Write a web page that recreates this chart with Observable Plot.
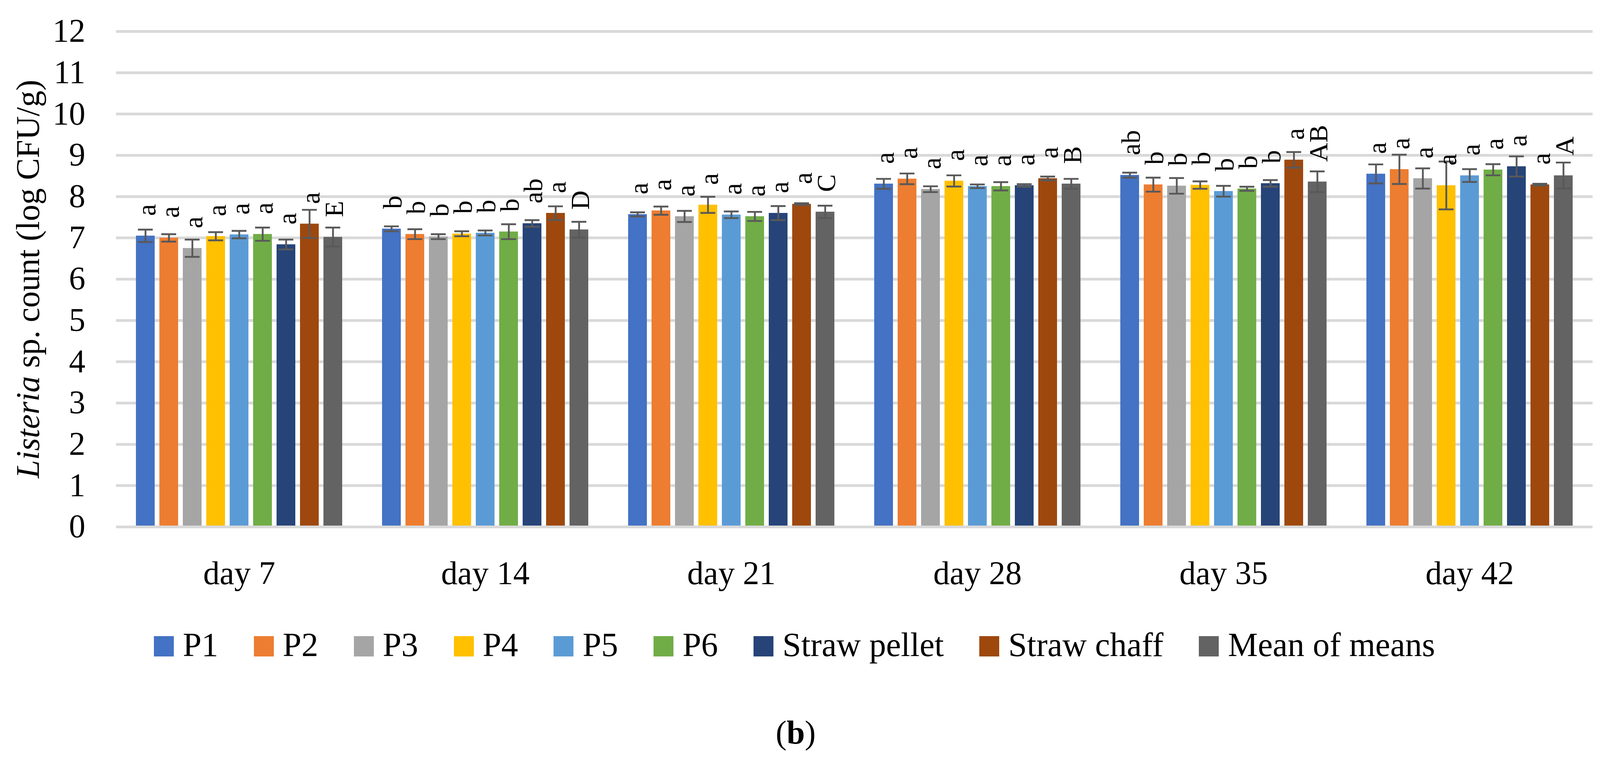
<!DOCTYPE html>
<html><head><meta charset="utf-8">
<script src="https://cdn.jsdelivr.net/npm/d3@7"></script>
<script src="https://cdn.jsdelivr.net/npm/@observablehq/plot@0.6"></script>
<style>
html,body{margin:0;padding:0;background:#fff;overflow:hidden;}
#root{position:relative;width:4117px;height:1945px;font-family:"Liberation Serif",serif;color:#000;background:#fff;}
#chart{position:absolute;left:0;top:0;}
#legend{position:absolute;left:394px;top:1607px;display:flex;align-items:flex-start;font-size:86px;line-height:1;white-space:nowrap;}
.item{display:flex;align-items:flex-start;margin-right:91px;}
.sw{width:51px;height:52px;margin-top:21px;margin-right:23px;}
#caption{position:absolute;left:2037px;top:1833px;transform:translateX(-50%);font-size:84px;line-height:1;white-space:nowrap;}
</style></head>
<body><div id="root"><div id="chart"></div><div id="legend"></div><div id="caption">(<b>b</b>)</div></div>
<script>
const days = ["day 7", "day 14", "day 21", "day 28", "day 35", "day 42"];
const seriesNames = ["P1", "P2", "P3", "P4", "P5", "P6", "Straw pellet", "Straw chaff", "Mean of means"];
const seriesColors = ["#4472C4", "#ED7D31", "#A5A5A5", "#FFC000", "#5B9BD5", "#70AD47", "#264478", "#9E480E", "#636363"];
const yTicks = [0, 1, 2, 3, 4, 5, 6, 7, 8, 9, 10, 11, 12];

// mean counts (log CFU/g), in series order
const day7Values  = [7.05, 7.00, 6.75, 7.04, 7.08, 7.09, 6.84, 7.34, 7.02];
const day14Values = [7.22, 7.09, 7.03, 7.10, 7.12, 7.15, 7.35, 7.60, 7.20];
const day21Values = [7.57, 7.66, 7.52, 7.80, 7.56, 7.52, 7.60, 7.82, 7.63];
const day28Values = [8.31, 8.43, 8.18, 8.38, 8.25, 8.25, 8.27, 8.44, 8.31];
const day35Values = [8.52, 8.29, 8.26, 8.28, 8.13, 8.19, 8.32, 8.89, 8.36];
const day42Values = [8.55, 8.66, 8.44, 8.27, 8.51, 8.65, 8.73, 8.29, 8.51];

// error bar half-lengths
const day7Errors  = [0.15, 0.09, 0.21, 0.10, 0.09, 0.16, 0.12, 0.34, 0.23];
const day14Errors = [0.06, 0.12, 0.06, 0.06, 0.06, 0.18, 0.08, 0.165, 0.19];
const day21Errors = [0.05, 0.10, 0.135, 0.195, 0.08, 0.11, 0.17, 0.02, 0.15];
const day28Errors = [0.12, 0.13, 0.07, 0.135, 0.045, 0.10, 0.03, 0.045, 0.12];
const day35Errors = [0.06, 0.17, 0.19, 0.09, 0.13, 0.05, 0.08, 0.19, 0.25];
const day42Errors = [0.23, 0.355, 0.245, 0.58, 0.155, 0.135, 0.245, 0.02, 0.315];

// significance letters
const day7Letters  = ["a", "a", "a", "a", "a", "a", "a", "a", "E"];
const day14Letters = ["b", "b", "b", "b", "b", "b", "ab", "a", "D"];
const day21Letters = ["a", "a", "a", "a", "a", "a", "a", "a", "C"];
const day28Letters = ["a", "a", "a", "a", "a", "a", "a", "a", "B"];
const day35Letters = ["ab", "b", "b", "b", "b", "b", "b", "a", "AB"];
const day42Letters = ["a", "a", "a", "a", "a", "a", "a", "a", "A"];

const allValues = [day7Values, day14Values, day21Values, day28Values, day35Values, day42Values];
const allErrors = [day7Errors, day14Errors, day21Errors, day28Errors, day35Errors, day42Errors];
const allLetters = [day7Letters, day14Letters, day21Letters, day28Letters, day35Letters, day42Letters];

const rows = [];
days.forEach((day, di) => seriesNames.forEach((s, si) => rows.push({
  day, series: s, value: allValues[di][si], err: allErrors[di][si], letter: allLetters[di][si]
})));

const fontFamily = '"Liberation Serif", serif';
const errColor = "#595959";

const chart = Plot.plot({
  width: 4117,
  height: 1560,
  marginLeft: 297,
  marginRight: 40,
  marginTop: 80,
  marginBottom: 212,
  style: {fontFamily, fontSize: "84px", background: "white", color: "black", overflow: "visible"},
  facet: {data: rows, x: "day"},
  fx: {domain: days, padding: 0, axis: "bottom", label: null, tickSize: 0, tickPadding: 87},
  x: {domain: seriesNames, paddingInner: 0.2, paddingOuter: 0.84, axis: null},
  y: {domain: [0, 12], ticks: yTicks, tickSize: 0, tickPadding: 79, label: null},
  color: {domain: seriesNames, range: seriesColors},
  marks: [
    Plot.ruleY(yTicks, {stroke: "#d9d9d9", strokeWidth: 7}),
    Plot.barY(rows, {x: "series", y: "value", fill: "series"}),
    Plot.ruleY([0], {stroke: "#d9d9d9", strokeWidth: 7}),
    Plot.ruleX(rows, {x: "series", y1: d => d.value - d.err, y2: d => d.value + d.err, stroke: errColor, strokeWidth: 4.6}),
    Plot.tickY(rows, {x: "series", y: d => d.value + d.err, stroke: errColor, strokeWidth: 4.7, insetLeft: 5, insetRight: 5}),
    Plot.tickY(rows, {x: "series", y: d => d.value - d.err, stroke: errColor, strokeWidth: 4.7, insetLeft: 5, insetRight: 5}),
    Plot.text(rows, {x: "series", y: "value", text: "letter", rotate: -90, textAnchor: "start", lineAnchor: "middle",
      dy: -51, dx: 4, fontSize: 68, fill: "black", fontFamily})
  ]
});
document.getElementById("chart").appendChild(chart);

// y-axis title with italic genus name
const yScale = chart.scale("y");
const yc = (yScale.apply(0) + yScale.apply(12)) / 2;
const title = d3.select(chart).append("text")
  .attr("transform", `translate(100,${yc}) rotate(-90)`)
  .attr("text-anchor", "middle")
  .attr("font-size", 84)
  .attr("font-family", fontFamily)
  .attr("fill", "black");
title.append("tspan").attr("font-style", "italic").text("Listeria");
title.append("tspan").text(" sp. count (log CFU/g)");

// legend
const legend = d3.select("#legend");
seriesNames.forEach((s, i) => {
  const item = legend.append("div").attr("class", "item");
  item.append("div").attr("class", "sw").style("background", seriesColors[i]);
  item.append("span").text(s);
});
</script>
</body></html>
